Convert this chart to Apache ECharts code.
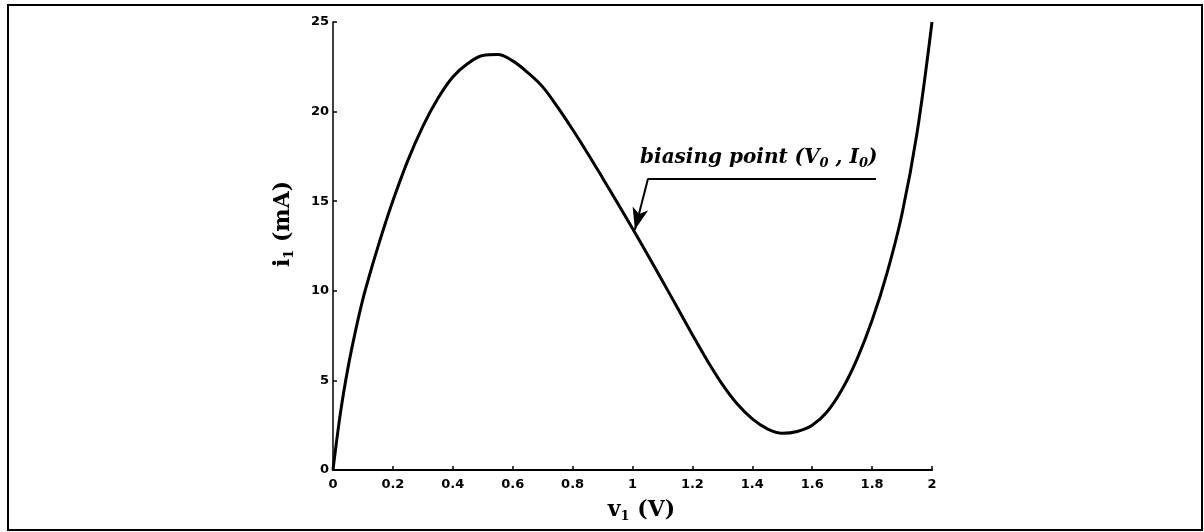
<!DOCTYPE html>
<html><head><meta charset="utf-8">
<script src="https://cdn.jsdelivr.net/npm/echarts@6/dist/echarts.min.js"></script>
<style>html,body{margin:0;padding:0;background:#fff}#c{width:1204px;height:532px}</style>
</head><body><div id="c"></div>
<script>
// v1 (V)
const voltage = [0, 0.025, 0.05, 0.075, 0.1, 0.125, 0.15, 0.175, 0.2, 0.25, 0.3, 0.35, 0.4, 0.45, 0.5, 0.55, 0.6, 0.65, 0.7, 0.75, 0.8, 0.85, 0.9, 0.95, 1.0, 1.05, 1.1, 1.15, 1.2, 1.25, 1.3, 1.35, 1.4, 1.45, 1.5, 1.55, 1.6, 1.65, 1.7, 1.75, 1.8, 1.85, 1.9, 1.95, 2.0];
// i1 (mA)
const current = [0, 3.2, 5.7, 7.75, 9.55, 11.05, 12.45, 13.78, 15.03, 17.28, 19.18, 20.73, 21.93, 22.68, 23.13, 23.18, 22.83, 22.18, 21.38, 20.25, 19.0, 17.68, 16.3, 14.9, 13.48, 12.03, 10.55, 9.05, 7.55, 6.1, 4.78, 3.68, 2.85, 2.3, 2.05, 2.15, 2.5, 3.25, 4.5, 6.2, 8.35, 11.0, 14.3, 18.8, 25];
const xTickValues = [0, 0.2, 0.4, 0.6, 0.8, 1, 1.2, 1.4, 1.6, 1.8, 2];
const yTickValues = [0, 5, 10, 15, 20, 25];
const biasPoint = [1.008, 13.4];
const leaderCorner = [1.052, 16.26];
const leaderEnd = [1.813, 16.26];
const annotationText = '{t|biasing point (V}{s|0}{t| , I}{s|0}{t|)}';

const serif = '"DejaVu Serif", "Liberation Serif", serif';
const chart = echarts.init(document.getElementById('c'), null, {renderer: 'canvas'});
const tickFont = {color: '#000', fontFamily: '"DejaVu Sans", sans-serif', fontWeight: 'bold', fontSize: 13};
const titleRich = {
  b: {fontFamily: serif, fontWeight: 'bold', fontSize: 22, color: '#000', lineHeight: 26},
  s: {fontFamily: serif, fontWeight: 'bold', fontSize: 13, color: '#000', lineHeight: 13, verticalAlign: 'bottom'}
};
chart.setOption({
  animation: false,
  backgroundColor: '#fff',
  grid: {left: 333, right: 272, top: 22, bottom: 62, containLabel: false},
  xAxis: {
    type: 'value', min: xTickValues[0], max: xTickValues[xTickValues.length - 1], interval: 0.2,
    splitLine: {show: false},
    axisLine: {lineStyle: {color: '#000', width: 2}},
    axisTick: {inside: true, length: 4, lineStyle: {color: '#000', width: 1.5}},
    axisLabel: Object.assign({margin: 8, formatter: v => String(+v.toFixed(1))}, tickFont),
    name: '{b|v}{s|1}{b| (V)}',
    nameLocation: 'middle', nameGap: 27,
    nameTextStyle: {padding: [0, 0, 0, 18], rich: titleRich}
  },
  yAxis: {
    type: 'value', min: yTickValues[0], max: yTickValues[yTickValues.length - 1], interval: 5,
    splitLine: {show: false},
    axisLine: {lineStyle: {color: '#000', width: 1.5}},
    axisTick: {inside: true, length: 4, lineStyle: {color: '#000', width: 1.5}},
    axisLabel: Object.assign({margin: 4}, tickFont),
    name: '{b|i}{s|1}{b| (mA)}',
    nameLocation: 'middle', nameGap: 37, nameRotate: 90,
    nameTextStyle: {padding: [0, 0, 0, 44], rich: titleRich}
  },
  graphic: [{
    type: 'rect', silent: true,
    shape: {x: 8, y: 5, width: 1194, height: 525},
    style: {fill: 'none', stroke: '#000', lineWidth: 2}
  }],
  series: [{
    type: 'line',
    data: voltage.map((v, k) => [v, current[k]]),
    symbol: 'none', smooth: 0.35,
    lineStyle: {color: '#000', width: 3},
    markLine: {
      silent: true, animation: false,
      symbol: 'none',
      lineStyle: {color: '#000', width: 2, type: 'solid'},
      data: [
        [
          {coord: leaderCorner, symbol: 'none'},
          {coord: leaderEnd, symbol: 'none'}
        ],
        [
          {coord: leaderCorner, symbol: 'none'},
          {coord: biasPoint, symbol: 'arrow', symbolSize: [12, 22]}
        ]
      ],
      label: {show: false}
    }
  }]
});
// annotation text above the leader line, anchored at the leader's corner
const p = chart.convertToPixel({gridIndex: 0}, leaderCorner);
chart.setOption({
  graphic: [{}, {
    type: 'text', silent: true,
    x: p[0] - 8, y: p[1] - 8,
    style: {
      text: annotationText,
      verticalAlign: 'bottom', align: 'left',
      rich: {
        t: {fontFamily: serif, fontStyle: 'italic', fontWeight: 'bold', fontSize: 20, fill: '#000', lineHeight: 26},
        s: {fontFamily: serif, fontStyle: 'italic', fontWeight: 'bold', fontSize: 13, fill: '#000', lineHeight: 13, verticalAlign: 'bottom'}
      }
    }
  }]
});
</script></body></html>
